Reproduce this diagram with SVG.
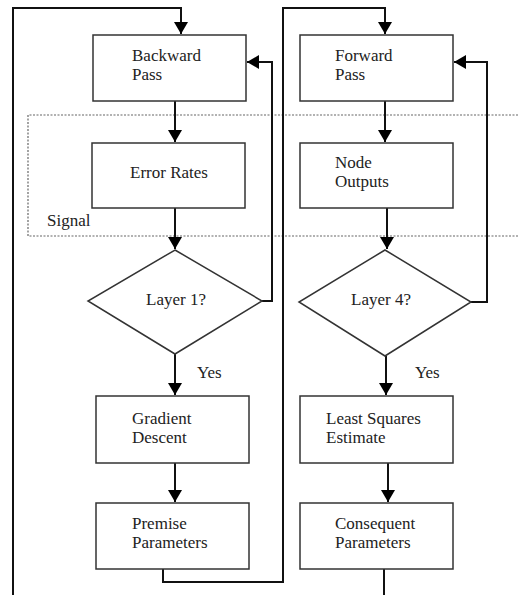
<svg xmlns="http://www.w3.org/2000/svg" width="518" height="595" viewBox="0 0 518 595">
<style>
.box{fill:#fff;stroke:#333;stroke-width:1.5}
.t{font-family:"Liberation Serif","Times New Roman",serif;font-size:17px;fill:#222}
.c{fill:none;stroke:#111;stroke-width:2}
.dash{fill:none;stroke:#666;stroke-width:1.2;stroke-dasharray:2 1.5}
</style>
<defs>
<marker id="ah" markerUnits="userSpaceOnUse" markerWidth="13" markerHeight="15" refX="12" refY="7" orient="auto">
<path d="M0,0 L12,7 L0,14 z" fill="#000"/>
</marker>
</defs>
<path class="dash" d="M518,115 H28 V236 H518"/>
<text class="t" x="47" y="226">Signal</text>
<g id="connectors">
<path class="c" d="M13,598 V8 H181 V34" marker-end="url(#ah)"/>
<path class="c" d="M175,101 V142" marker-end="url(#ah)"/>
<path class="c" d="M175,208 V249" marker-end="url(#ah)"/>
<path class="c" d="M262,301 H272 V62 H247" marker-end="url(#ah)" stroke-width="1.5"/>
<path class="c" d="M175,354 V395" marker-end="url(#ah)"/>
<path class="c" d="M175,463 V502" marker-end="url(#ah)"/>
<path class="c" d="M163,569 V582 H283 V8 H385 V34" marker-end="url(#ah)" stroke-width="1.5"/>
<path class="c" d="M385,101 V142" marker-end="url(#ah)"/>
<path class="c" d="M387,208 V249" marker-end="url(#ah)"/>
<path class="c" d="M471,302 H487 V62 H454" marker-end="url(#ah)" stroke-width="1.5"/>
<path class="c" d="M386,356 V395" marker-end="url(#ah)"/>
<path class="c" d="M388,463 V502" marker-end="url(#ah)"/>
<path class="c" d="M384,569 V598" stroke-width="1.5"/>
</g>
<g id="backward"><rect class="box" x="93" y="35" width="153" height="66"/><text class="t" x="132" y="61">Backward</text><text class="t" x="132" y="80">Pass</text></g>
<g id="error"><rect class="box" x="92" y="143" width="153" height="65"/><text class="t" x="169" y="178" text-anchor="middle">Error Rates</text></g>
<g id="layer1"><polygon class="box" points="175,250 262,301 175,354 88,301"/><text class="t" x="176" y="305" text-anchor="middle">Layer 1?</text></g>
<text class="t" x="197" y="378">Yes</text>
<g id="gradient"><rect class="box" x="96" y="396" width="153" height="67"/><text class="t" x="132" y="424">Gradient</text><text class="t" x="132" y="443">Descent</text></g>
<g id="premise"><rect class="box" x="96" y="503" width="153" height="66"/><text class="t" x="132" y="529">Premise</text><text class="t" x="132" y="548">Parameters</text></g>
<g id="forward"><rect class="box" x="300" y="35" width="153" height="66"/><text class="t" x="335" y="61">Forward</text><text class="t" x="335" y="80">Pass</text></g>
<g id="node"><rect class="box" x="300" y="143" width="153" height="65"/><text class="t" x="335" y="168">Node</text><text class="t" x="335" y="187">Outputs</text></g>
<g id="layer4"><polygon class="box" points="385,250 471,302 385,356 299,302"/><text class="t" x="381" y="305" text-anchor="middle">Layer 4?</text></g>
<text class="t" x="415" y="378">Yes</text>
<g id="lse"><rect class="box" x="300" y="396" width="153" height="67"/><text class="t" x="326" y="424">Least Squares</text><text class="t" x="326" y="443">Estimate</text></g>
<g id="consequent"><rect class="box" x="300" y="503" width="153" height="66"/><text class="t" x="335" y="529">Consequent</text><text class="t" x="335" y="548">Parameters</text></g>
</svg>
